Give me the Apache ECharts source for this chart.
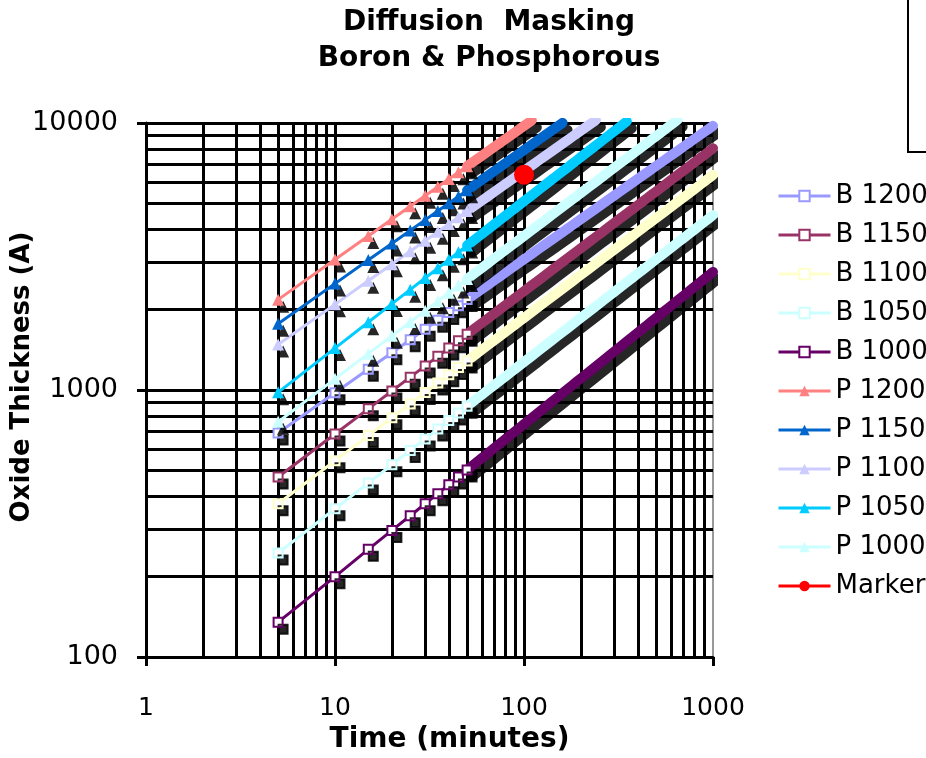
<!DOCTYPE html>
<html>
<head>
<meta charset="utf-8">
<title>Diffusion Masking</title>
<script src="https://cdn.jsdelivr.net/npm/echarts@6/dist/echarts.min.js"></script>
<style>
  html, body { margin: 0; padding: 0; background: #fff; }
  #chart { width: 926px; height: 758px; }
</style>
</head>
<body>
<div id="chart"></div>
<script>
// times (minutes) where the values were read
const times = [5, 10, 15, 20, 25, 30, 35, 40, 45, 50, 55, 60, 65, 70, 75, 80, 85, 90, 95, 100,
  110, 120, 130, 140, 150, 160, 170, 180, 190, 200, 220, 240, 260, 280, 300,
  325, 350, 375, 400, 425, 450, 475, 500, 550, 600, 650, 700, 750, 800, 850, 900, 950, 1000];

// oxide thickness (A)
const b1200 = [690, 976, 1195, 1380, 1543, 1690, 1826, 1952, 2070, 2182, 2288, 2390, 2488, 2582, 2672, 2760, 2845, 2927, 3008, 3086,
  3236, 3380, 3518, 3651, 3779, 3903, 4023, 4140, 4253, 4364, 4577, 4780, 4976, 5163, 5345,
  5563, 5773, 5976, 6172, 6361, 6546, 6725, 6900, 7237, 7559, 7867, 8164, 8451, 8728, 8996, 9257, 9511, 9758];
const b1150 = [472, 684, 850, 991, 1117, 1231, 1337, 1436, 1529, 1618, 1703, 1784, 1862, 1937, 2010, 2080, 2149, 2216, 2281, 2344,
  2467, 2584, 2698, 2807, 2912, 3015, 3114, 3211, 3305, 3397, 3574, 3745, 3908, 4066, 4219,
  4404, 4582, 4755, 4922, 5083, 5242, 5396, 5545, 5835, 6113, 6381, 6639, 6889, 7131, 7366, 7595, 7817, 8035];
const b1100 = [375, 543, 675, 787, 887, 978, 1062, 1141, 1215, 1285, 1353, 1417, 1479, 1539, 1597, 1653, 1707, 1760, 1812, 1862,
  1960, 2053, 2143, 2230, 2314, 2395, 2474, 2551, 2625, 2699, 2840, 2975, 3105, 3231, 3352,
  3499, 3641, 3777, 3910, 4039, 4164, 4287, 4406, 4636, 4857, 5070, 5275, 5473, 5665, 5852, 6034, 6211, 6384];
const b1050 = [245, 359, 448, 525, 594, 656, 714, 769, 820, 869, 916, 961, 1005, 1046, 1087, 1126, 1164, 1201, 1238, 1273,
  1341, 1407, 1470, 1532, 1591, 1648, 1704, 1759, 1812, 1864, 1964, 2060, 2153, 2242, 2329,
  2434, 2535, 2633, 2728, 2820, 2911, 2999, 3084, 3250, 3410, 3563, 3711, 3855, 3994, 4130, 4262, 4390, 4516];
const b1000 = [135, 200, 253, 298, 338, 375, 409, 442, 472, 502, 530, 557, 583, 608, 632, 656, 679, 701, 723, 745,
  786, 826, 865, 902, 938, 973, 1008, 1041, 1074, 1105, 1167, 1226, 1284, 1339, 1393,
  1458, 1521, 1582, 1641, 1699, 1755, 1810, 1864, 1968, 2067, 2164, 2258, 2348, 2436, 2522, 2605, 2687, 2767];
const p1200 = [2180, 3083, 3776, 4360, 4875, 5340, 5768, 6166, 6540, 6894, 7230, 7552, 7860, 8157, 8443, 8720, 8988, 9249, 9502, 9749,
  10225];
const p1150 = [1770, 2503, 3066, 3540, 3958, 4336, 4683, 5006, 5310, 5597, 5870, 6131, 6382, 6623, 6855, 7080, 7298, 7509, 7715, 7916,
  8302, 8671, 9025, 9366, 9695, 10013];
const p1100 = [1480, 2093, 2564, 2960, 3309, 3625, 3916, 4186, 4440, 4680, 4909, 5127, 5336, 5538, 5732, 5920, 6102, 6279, 6451, 6619,
  6942, 7251, 7547, 7831, 8106, 8372, 8630, 8880, 9123, 9360, 9817, 10254];
const p1050 = [980, 1435, 1793, 2101, 2376, 2626, 2858, 3076, 3281, 3477, 3665, 3844, 4018, 4186, 4347, 4504, 4657, 4806, 4951, 5092,
  5366, 5629, 5882, 6127, 6364, 6593, 6817, 7034, 7247, 7454, 7855, 8240, 8611, 8969, 9316,
  9735, 10140];
const p1000 = [760, 1101, 1368, 1595, 1798, 1982, 2152, 2312, 2462, 2605, 2741, 2872, 2998, 3119, 3236, 3350, 3460, 3568, 3672, 3774,
  3972, 4161, 4343, 4519, 4689, 4854, 5013, 5170, 5321, 5469, 5755, 6029, 6293, 6548, 6794,
  7091, 7378, 7655, 7925, 8185, 8440, 8689, 8929, 9395, 9844, 10274];
const markerPoint = [[100, 6400]];

// gridline positions
const xGridValues = [2, 3, 4, 5, 6, 7, 8, 9, 10, 20, 30, 40, 50, 60, 70, 80, 90, 100, 200, 300, 400, 500, 600, 700, 800, 900];
const yGridValues = [200, 300, 400, 500, 600, 700, 800, 900, 1000, 2000, 3000, 4000, 5000, 6000, 7000, 8000, 9000, 10000];

const boronSeries = [
  ['B 1200', b1200, '#9999FF'],
  ['B 1150', b1150, '#993366'],
  ['B 1100', b1100, '#FFFFCC'],
  ['B 1050', b1050, '#CCFFFF'],
  ['B 1000', b1000, '#660066']
];
const phosSeries = [
  ['P 1200', p1200, '#FF8080'],
  ['P 1150', p1150, '#0066CC'],
  ['P 1100', p1100, '#CCCCFF'],
  ['P 1050', p1050, '#00CCFF'],
  ['P 1000', p1000, '#CCFFFF']
];

const FONT = 'DejaVu Sans';
// past this time the markers sit so close they merge into a solid band
const DENSE_FROM = 50;

function toPairs(vals) {
  return vals.map((v, i) => [times[i], v]);
}

const shadow = { shadowColor: 'rgba(0,0,0,0.85)', shadowOffsetX: 5, shadowOffsetY: 7, shadowBlur: 0 };

const series = [];

// black gridlines drawn under the data
series.push({
  name: 'grid',
  type: 'line',
  data: [],
  z: 1,
  silent: true,
  markLine: {
    silent: true,
    z: 1,
    symbol: 'none',
    animation: false,
    label: { show: false },
    lineStyle: { color: '#000', width: 3, type: 'solid' },
    emphasis: { disabled: true },
    data: xGridValues.map(v => ({ xAxis: v })).concat(yGridValues.map(v => ({ yAxis: v })))
  }
});

function addSeries(name, vals, color, isBoron) {
  const pts = toPairs(vals);
  // merged markers: thick band with the black label smear under it
  series.push({
    name: name + ' band',
    type: 'line',
    data: pts.filter(p => p[0] >= DENSE_FROM),
    symbol: 'none',
    silent: true,
    lineStyle: Object.assign({ color: color, width: 10, cap: 'round', join: 'round' }, shadow)
  });
  series.push({
    name: name,
    type: 'line',
    data: pts,
    symbol: isBoron ? 'rect' : 'triangle',
    symbolSize: v => (v[0] > DENSE_FROM ? 0 : (isBoron ? 9 : 12)),
    showAllSymbol: true,
    lineStyle: { color: color, width: 3 },
    itemStyle: isBoron
      ? Object.assign({ color: '#fff', borderColor: color, borderWidth: 2 }, shadow)
      : Object.assign({ color: color }, shadow)
  });
}

boronSeries.forEach(([name, vals, color]) => addSeries(name, vals, color, true));
phosSeries.forEach(([name, vals, color]) => addSeries(name, vals, color, false));

series.push({
  name: 'Marker',
  type: 'line',
  data: markerPoint,
  symbol: 'circle',
  symbolSize: 20,
  lineStyle: { color: '#FF0000', width: 3 },
  itemStyle: { color: '#FF0000' }
});

const legendNames = boronSeries.map(s => s[0]).concat(phosSeries.map(s => s[0]), ['Marker']);

const chart = echarts.init(document.getElementById('chart'));

const option = {
  animation: false,
  backgroundColor: '#fff',
  textStyle: { fontFamily: FONT },
  title: {
    text: 'Diffusion  Masking\nBoron & Phosphorous',
    left: 489,
    top: 5,
    textAlign: 'center',
    padding: 0,
    textStyle: { fontFamily: FONT, fontSize: 28, fontWeight: 'bold', color: '#000', lineHeight: 36 }
  },
  legend: {
    data: legendNames,
    orient: 'vertical',
    left: 777,
    top: 183,
    itemWidth: 52,
    itemHeight: 13,
    itemGap: 13,
    padding: 0,
    lineStyle: { width: 3 },
    textStyle: { fontFamily: FONT, fontSize: 26, lineHeight: 26, color: '#000' }
  },
  grid: {
    left: 146,
    right: 213,
    top: 123,
    bottom: 101,
    containLabel: false,
    outerBoundsMode: 'none',
    show: true,
    borderColor: '#999',
    borderWidth: 2
  },
  xAxis: {
    type: 'log',
    logBase: 10,
    min: 1,
    max: 1000,
    name: 'Time (minutes)',
    nameLocation: 'middle',
    nameGap: 69,
    nameMoveOverlap: false,
    nameTextStyle: { fontFamily: FONT, fontSize: 28, fontWeight: 'bold', color: '#000', padding: [0, 0, 0, 40] },
    axisLine: { show: true, lineStyle: { color: '#000', width: 3 } },
    axisTick: { show: true, inside: false, length: 9, lineStyle: { color: '#000', width: 3 } },
    axisLabel: { fontFamily: FONT, fontSize: 25, color: '#000', margin: 39, formatter: v => String(Math.round(v)) },
    splitLine: { show: false },
    minorTick: { show: false },
    minorSplitLine: { show: false }
  },
  yAxis: {
    type: 'log',
    logBase: 10,
    min: 100,
    max: 10000,
    name: 'Oxide Thickness (A)',
    nameLocation: 'middle',
    nameGap: 111,
    nameMoveOverlap: false,
    nameTextStyle: { fontFamily: FONT, fontSize: 26, fontWeight: 'bold', color: '#000', padding: [0, 0, 0, 26] },
    axisLine: { show: true, lineStyle: { color: '#000', width: 3 } },
    axisTick: { show: true, inside: false, length: 9, lineStyle: { color: '#000', width: 3 } },
    axisLabel: { fontFamily: FONT, fontSize: 27, color: '#000', margin: 28, formatter: v => String(Math.round(v)) },
    splitLine: { show: false },
    minorTick: { show: false },
    minorSplitLine: { show: false }
  },
  graphic: [
    {
      type: 'rect',
      shape: { x: 908, y: -4, width: 40, height: 156 },
      style: { fill: 'none', stroke: '#000', lineWidth: 2 },
      silent: true
    }
  ],
  series: series
};

chart.setOption(option);
</script>
</body>
</html>
